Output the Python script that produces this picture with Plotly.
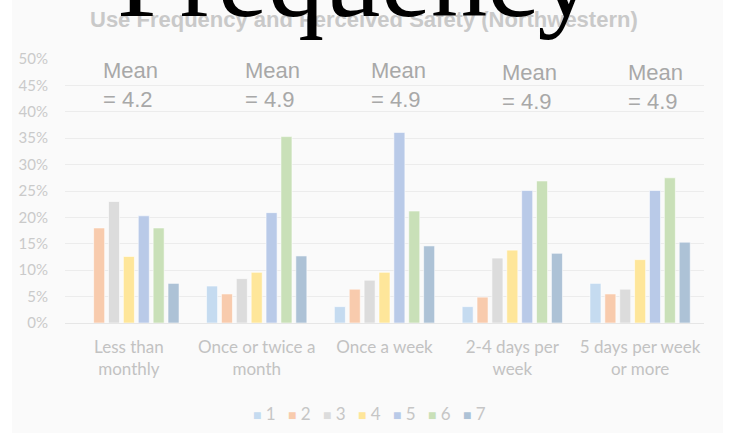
import plotly.graph_objects as go

categories = ["Less than<br>monthly", "Once or twice a<br>month", "Once a week",
              "2-4 days per<br>week", "5 days per week<br>or more"]
series_names = ["1", "2", "3", "4", "5", "6", "7"]
s1 = [None, 0.070, 0.031, 0.031, 0.075]
s2 = [0.180, 0.055, 0.064, 0.049, 0.055]
s3 = [0.230, 0.084, 0.081, 0.123, 0.064]
s4 = [0.126, 0.096, 0.096, 0.138, 0.120]
s5 = [0.203, 0.209, 0.361, 0.251, 0.251]
s6 = [0.180, 0.353, 0.212, 0.269, 0.275]
s7 = [0.075, 0.127, 0.146, 0.132, 0.153]
series_values = [s1, s2, s3, s4, s5, s6, s7]
means = ["4.2", "4.9", "4.9", "4.9", "4.9"]
colors = ["#c5dbf0", "#f8cbad", "#dcdcdc", "#fee69a", "#b9cae8", "#c9e0b8", "#adc2d6"]

W, H = 743, 433
L, R, T, B = 65, 39, 59, 110
pw, ph = W - L - R, H - T - B


def px(x):
    return (x - L) / pw


def py(y):
    return (H - B - y) / ph


fig = go.Figure()
for name, vals, c in zip(series_names, series_values, colors):
    fig.add_trace(go.Bar(x=categories, y=vals, name=name, marker_color=c,
                         marker_line=dict(color="rgba(255,255,255,0.7)", width=0.8),
                         showlegend=False))

# background panel
fig.add_shape(type="rect", xref="paper", yref="paper", x0=px(12), x1=px(723),
              y0=py(433), y1=py(0), fillcolor="#fafafa", line_width=0, layer="below")

annotations = []
mean_x = [101, 243, 369, 500, 626]
mean_y = [56, 56, 56, 58, 58]
for m, xx, yy in zip(means, mean_x, mean_y):
    annotations.append(dict(text=f"Mean<br>= {m}", xref="paper", yref="paper",
                            x=px(xx), y=py(yy), xanchor="left", yanchor="top", align="left",
                            showarrow=False,
                            font=dict(family="Liberation Sans", size=22, color="#a8a8a8")))

# gray chart title
annotations.append(dict(text="<b>Use Frequency and Perceived Safety (Northwestern)</b>",
                        xref="paper", yref="paper", x=px(364), y=py(34),
                        xanchor="center", yanchor="bottom", showarrow=False,
                        font=dict(family="Liberation Sans", size=22, color="#c9c9c9")))
# big overlay word
annotations.append(dict(text="Frequency", xref="paper", yref="paper", x=px(355), y=py(42),
                        xanchor="center", yanchor="bottom", showarrow=False,
                        font=dict(family="Liberation Serif", size=113, color="#000000")))

# legend as text entries
for i, (name, c) in enumerate(zip(series_names, colors)):
    annotations.append(dict(text=f"<span style='color:{c};font-size:14px'>■</span> {name}",
                            xref="paper", yref="paper", x=px(251 + 35 * i), y=py(413),
                            xanchor="left", yanchor="middle", showarrow=False,
                            font=dict(family="Lato", size=17, color="#c6c6c6")))

fig.update_layout(
    width=W, height=H, autosize=False,
    margin=dict(l=L, r=R, t=T, b=B),
    paper_bgcolor="#ffffff", plot_bgcolor="rgba(0,0,0,0)",
    barmode="group", bargap=0.185, bargroupgap=0.26,
    showlegend=False,
    annotations=annotations,
    xaxis=dict(showgrid=False, showline=False, ticks="",
               tickfont=dict(family="Lato", size=17, color="#c2c2c2"),
               ticklabelstandoff=12),
    yaxis=dict(range=[0, 0.5], dtick=0.05, tickformat=".0%",
               showgrid=True, gridcolor="#ececec", gridwidth=1,
               zeroline=True, zerolinecolor="#e6e6e6", zerolinewidth=1,
               showline=False, ticks="",
               tickfont=dict(family="Lato", size=15, color="#cacaca"),
               ticklabelstandoff=16),
)

fig.write_html("out.html", config={"displayModeBar": False},
               post_script="document.body.style.margin='0';")
